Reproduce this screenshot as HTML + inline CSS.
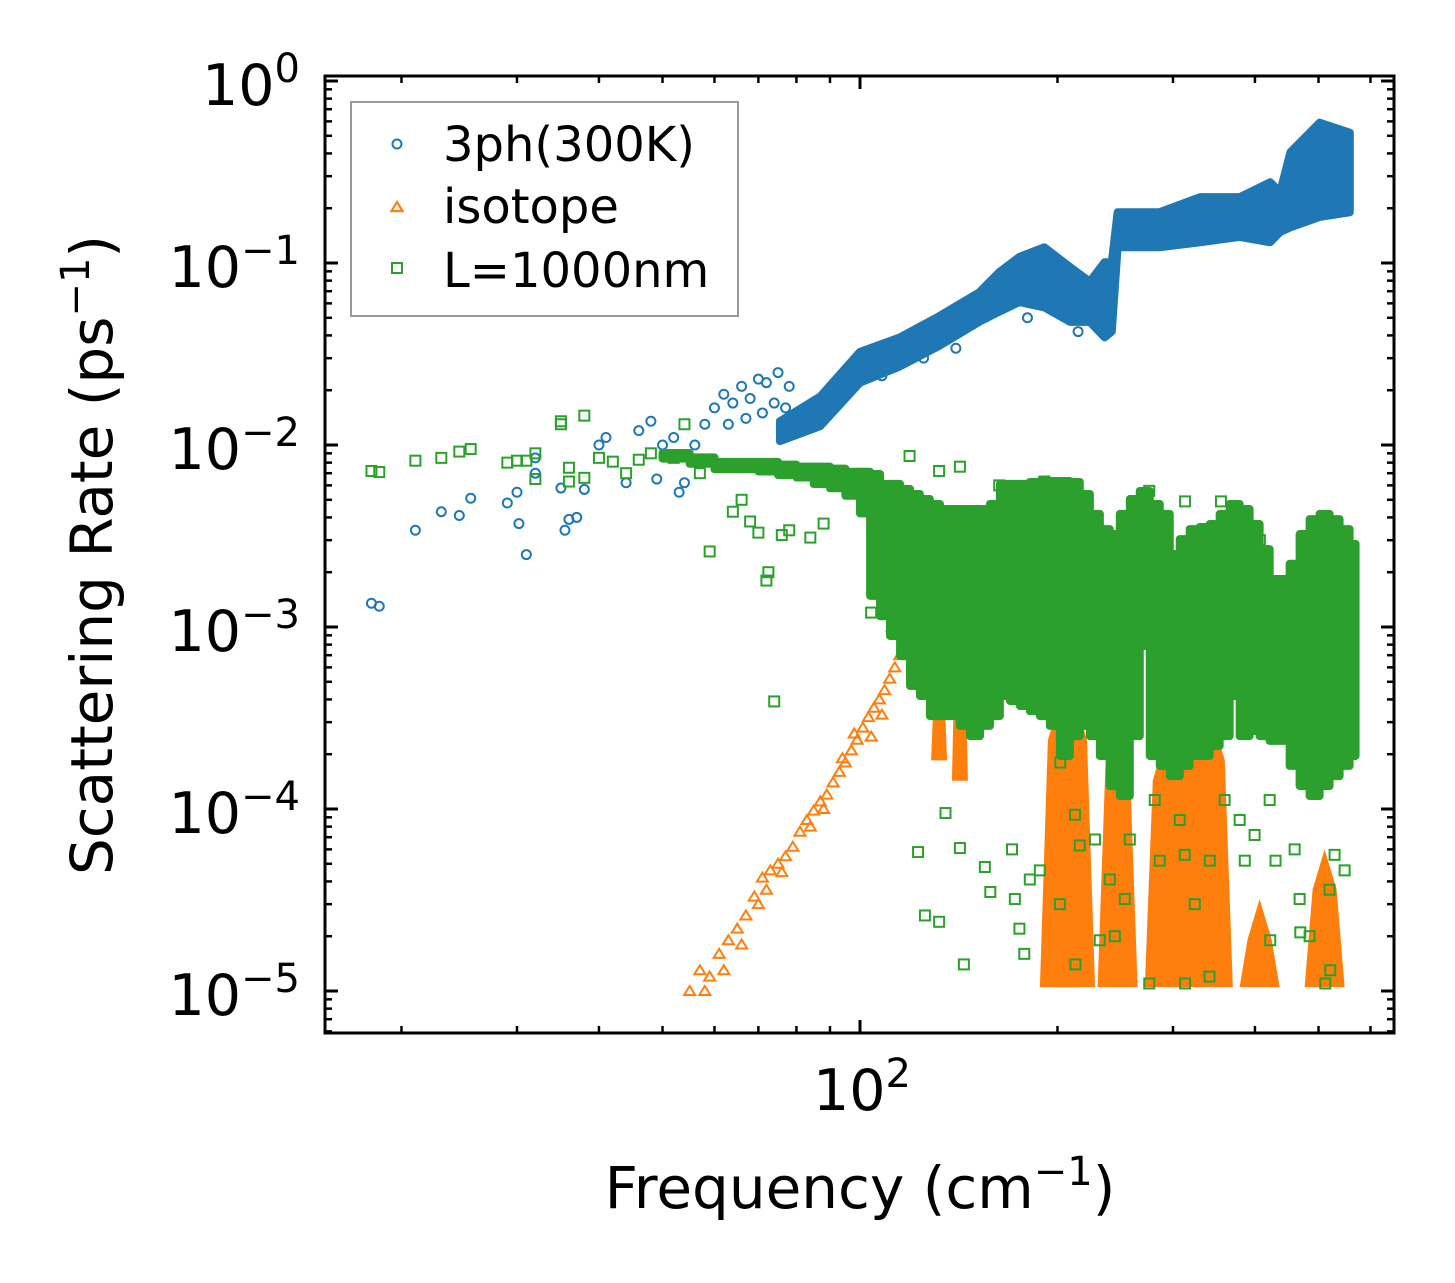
<!DOCTYPE html>
<html><head><meta charset="utf-8"><style>
html,body{margin:0;padding:0;background:#fff;}
svg{display:block;font-family:"DejaVu Sans","Liberation Sans",sans-serif;}
</style></head><body>
<svg id="chart" width="1455" height="1283" viewBox="0 0 1455 1283" xmlns="http://www.w3.org/2000/svg">
<g id="plot"></g>
<g id="axes"></g>
<g id="legend">
  <rect x="351" y="102" width="387" height="214" fill="#fff" stroke="#999" stroke-width="2"/>
  <g>
    <circle cx="397" cy="144" r="4.5" fill="none" stroke="#1f77b4" stroke-width="2"/>
    <text x="443" y="161" font-size="48" fill="#000">3ph(300K)</text>
  </g>
  <g>
    <polygon points="397,202 402.5,211 391.5,211" fill="none" stroke="#ff7f0e" stroke-width="2.2"/>
    <text x="443" y="223" font-size="48" fill="#000">isotope</text>
  </g>
  <g>
    <rect x="392" y="263" width="10" height="10" fill="none" stroke="#2ca02c" stroke-width="2"/>
    <text x="443" y="287" font-size="48" fill="#000">L=1000nm</text>
  </g>
</g>
<text x="860" y="1208" font-size="58" text-anchor="middle">Frequency (cm<tspan dy="-23" font-size="40">−1</tspan><tspan dy="23">)</tspan></text>
<text transform="translate(112,555) rotate(-90)" font-size="58" text-anchor="middle">Scattering Rate (ps<tspan dy="-23" font-size="40">−1</tspan><tspan dy="23">)</tspan></text>
</svg>
<script>
// ---- data ----
const blueBandF  = [75.5, 87, 100, 115, 132, 152, 163, 175, 191, 209, 224, 236, 242, 247, 286, 330, 379, 422, 437, 453, 502, 558];
const blueBandHi = [1.35e-2, 1.85e-2, 3.25e-2, 3.9e-2, 5.1e-2, 6.9e-2, 8.9e-2, 0.108, 0.122, 0.095, 0.079, 0.101, 0.101, 0.19, 0.19, 0.23, 0.23, 0.278, 0.245, 0.406, 0.59, 0.52];
const blueBandLo = [1.05e-2, 1.27e-2, 2.2e-2, 2.7e-2, 3.5e-2, 4.75e-2, 5.4e-2, 6.1e-2, 5.7e-2, 4.75e-2, 4.75e-2, 3.9e-2, 4.2e-2, 0.122, 0.122, 0.13, 0.139, 0.13, 0.148, 0.157, 0.179, 0.19];
const blueF = [18, 18.5, 21, 23, 24.5, 25.5, 29, 30, 30.2, 31, 32, 32, 35, 35.5, 36, 37, 38, 40, 41, 44, 46, 48, 49, 50, 52, 53, 54, 56, 58, 60, 62, 64, 66, 68, 70, 72, 75, 78, 108, 125, 140, 180, 215, 232, 63, 67, 71, 74, 77];
const blueR = [1.35e-3, 1.3e-3, 3.4e-3, 4.3e-3, 4.1e-3, 5.1e-3, 4.8e-3, 5.5e-3, 3.7e-3, 2.5e-3, 7e-3, 8.5e-3, 5.8e-3, 3.4e-3, 3.9e-3, 4e-3, 5.7e-3, 1e-2, 1.1e-2, 6.2e-3, 1.2e-2, 1.35e-2, 6.5e-3, 1e-2, 1.1e-2, 5.5e-3, 6.2e-3, 1e-2, 1.3e-2, 1.6e-2, 1.9e-2, 1.7e-2, 2.1e-2, 1.8e-2, 2.3e-2, 2.2e-2, 2.5e-2, 2.1e-2, 2.4e-2, 3e-2, 3.4e-2, 5e-2, 4.2e-2, 4.3e-2, 1.3e-2, 1.4e-2, 1.5e-2, 1.7e-2, 1.6e-2];

const orangeF = [55, 57, 59, 61, 63, 65, 67, 69, 71, 73, 75, 77, 79, 81, 83, 85, 87, 89, 91, 93, 95, 97, 99, 101, 103, 105, 107, 109, 111, 113, 115, 117, 112, 108, 104, 98, 94, 88, 84, 76, 72, 58, 62, 66, 70];
const orangeR = [1.0e-5, 1.3e-5, 1.2e-5, 1.6e-5, 1.9e-5, 2.2e-5, 2.6e-5, 3.3e-5, 4.2e-5, 4.6e-5, 5.0e-5, 5.5e-5, 6.2e-5, 7.5e-5, 8.7e-5, 9.8e-5, 1.1e-4, 1.2e-4, 1.4e-4, 1.6e-4, 1.8e-4, 2.1e-4, 2.4e-4, 2.8e-4, 3.2e-4, 3.6e-4, 4.0e-4, 4.5e-4, 5.2e-4, 6e-4, 7e-4, 8.4e-4, 1.0e-3, 3.3e-4, 2.5e-4, 2.6e-4, 1.9e-4, 1.0e-4, 8e-5, 4.5e-5, 3.6e-5, 1.0e-5, 1.3e-5, 1.8e-5, 3.0e-5];
const orangeSpanF  = [132, 142, 155, 201.7, 212.7, 247, 291.5, 318, 345, 406.6, 510.8];
const orangeSpanHi = [8.4e-4, 1.39e-3, 2.6e-3, 3.97e-4, 3.97e-4, 3.08e-4, 2.39e-4, 3.08e-4, 3.08e-4, 3.2e-5, 6.0e-5];
const orangeSpanLo = [1.85e-4, 1.43e-4, 3.05e-4, 1.05e-5, 1.05e-5, 1.05e-5, 1.05e-5, 1.05e-5, 1.05e-5, 1.05e-5, 1.05e-5];

const greenSpanF  = [50, 55, 60, 65, 70, 75, 80, 85, 90, 95, 100, 103.6, 107.3, 111.1, 115.1, 119.2, 123.4, 127.8, 132.4, 137.1, 142.0, 147.1, 152.4, 157.8, 163.4, 169.3, 175.3, 181.5, 188.0, 194.7, 201.7, 208.9, 216.3, 224.1, 232.1, 240.3, 248.9, 257.8, 267.0, 276.5, 286.4, 296.6, 307.2, 318.1, 329.5, 341.3, 353.4, 366.0, 379.1, 392.6, 406.6, 421.2, 451.8, 467.9, 484.6, 501.9, 519.8, 538.4, 557.6];
const greenSpanHi = [9.5e-3, 9e-3, 8.5e-3, 8.5e-3, 8.5e-3, 8.2e-3, 8e-3, 8e-3, 7.8e-3, 7.5e-3, 7.5e-3, 7.29e-3, 6.43e-3, 6.43e-3, 6.03e-3, 5.66e-3, 5.31e-3, 4.99e-3, 4.68e-3, 4.68e-3, 4.68e-3, 4.68e-3, 4.68e-3, 4.99e-3, 6.43e-3, 6.43e-3, 6.43e-3, 6.59e-3, 6.67e-3, 6.67e-3, 6.67e-3, 6.59e-3, 5.66e-3, 4.40e-3, 3.63e-3, 3.41e-3, 4.40e-3, 5.31e-3, 5.88e-3, 4.99e-3, 4.40e-3, 2.65e-3, 3.20e-3, 3.63e-3, 3.73e-3, 3.87e-3, 4.40e-3, 4.99e-3, 4.68e-3, 3.87e-3, 2.82e-3, 1.93e-3, 2.34e-3, 3.41e-3, 4.12e-3, 4.40e-3, 4.12e-3, 3.63e-3, 3.01e-3];
const greenSpanLo = [8e-3, 7.5e-3, 7e-3, 7e-3, 6.8e-3, 6.5e-3, 6.3e-3, 5.8e-3, 5.5e-3, 5e-3, 4e-3, 1.41e-3, 1.09e-3, 8.49e-4, 6.59e-4, 4.51e-4, 3.97e-4, 3.08e-4, 3.08e-4, 3.08e-4, 2.72e-4, 2.39e-4, 2.72e-4, 3.08e-4, 3.97e-4, 3.73e-4, 3.50e-4, 3.28e-4, 3.08e-4, 2.72e-4, 1.86e-4, 2.39e-4, 2.72e-4, 2.39e-4, 1.86e-4, 1.27e-4, 1.12e-4, 2.39e-4, 7.48e-4, 1.86e-4, 1.64e-4, 1.44e-4, 1.64e-4, 1.86e-4, 1.86e-4, 2.11e-4, 2.39e-4, 3.97e-4, 2.39e-4, 2.55e-4, 2.39e-4, 2.25e-4, 1.64e-4, 1.27e-4, 1.12e-4, 1.27e-4, 1.44e-4, 1.64e-4, 1.86e-4];
const greenF = [18, 18.5, 21, 23, 24.5, 25.5, 29, 30, 31, 32, 32, 35, 35, 36, 36, 38, 38, 40, 42, 44, 46, 48, 52, 54, 57, 59, 64, 66, 68, 70, 72, 72.5, 74, 76, 78, 84, 88, 104, 115, 122.6, 125.6, 132, 135, 142, 144, 155, 158, 175, 178, 202, 213, 232, 276, 313, 341, 422, 469, 521, 512, 386, 430, 437, 119, 132, 142, 163, 191, 213, 276, 313, 355, 407,
  170.5, 181.5, 172.2, 188, 201.7, 212.7, 216.3, 228.1, 240.3, 244.6, 253.3, 257.8, 281.4, 286.4, 307.2, 312.6, 323.8, 341.3, 359.6, 379.1, 399.5, 421.2, 459.8, 467.9, 484.6, 519.8, 529, 548];
const greenR = [7.2e-3, 7.1e-3, 8.2e-3, 8.5e-3, 9.2e-3, 9.5e-3, 8e-3, 8.2e-3, 8.2e-3, 9e-3, 6.5e-3, 1.3e-2, 1.35e-2, 7.5e-3, 6.3e-3, 1.45e-2, 6.6e-3, 8.5e-3, 8.1e-3, 7e-3, 8.3e-3, 9e-3, 8.5e-3, 1.3e-2, 7e-3, 2.6e-3, 4.3e-3, 5e-3, 3.8e-3, 3.3e-3, 1.8e-3, 2e-3, 3.9e-4, 3.2e-3, 3.4e-3, 3.1e-3, 3.7e-3, 1.2e-3, 1.6e-3, 5.8e-5, 2.6e-5, 2.4e-5, 9.5e-5, 6.1e-5, 1.4e-5, 4.8e-5, 3.5e-5, 2.2e-5, 1.6e-5, 1.8e-4, 1.4e-5, 1.9e-5, 1.1e-5, 1.1e-5, 1.2e-5, 1.9e-5, 2.1e-5, 1.3e-5, 1.1e-5, 5.2e-5, 5.2e-5, 2.7e-4, 8.7e-3, 7.2e-3, 7.6e-3, 6e-3, 6.3e-3, 6e-3, 5.6e-3, 4.9e-3, 4.9e-3, 3e-3,
  6.0e-5, 4.1e-5, 3.2e-5, 4.6e-5, 3.0e-5, 9.3e-5, 6.3e-5, 6.8e-5, 4.1e-5, 2.0e-5, 3.2e-5, 6.8e-5, 1.12e-4, 5.2e-5, 8.7e-5, 5.6e-5, 3.0e-5, 5.2e-5, 1.12e-4, 8.7e-5, 7.2e-5, 1.12e-4, 6.0e-5, 3.2e-5, 2.0e-5, 3.6e-5, 5.6e-5, 4.6e-5];

const yTickExp = [0, -1, -2, -3, -4, -5];
const xTickVals = [100];

// ---- axes ----
const X0 = 325, X1 = 1394, Y0 = 76, Y1 = 1033;
const xs = f => 860 + 656 * Math.log10(f / 100);
const ys = r => 81 - 182 * Math.log10(r);
const NS = 'http://www.w3.org/2000/svg';
const plot = document.getElementById('plot');
const axes = document.getElementById('axes');
function mk(tag, parent, attrs) {
  const e = document.createElementNS(NS, tag);
  for (const k in attrs) e.setAttribute(k, attrs[k]);
  parent.appendChild(e); return e;
}
const clip = mk('clipPath', plot, {id: 'pc'});
mk('rect', clip, {x: X0, y: Y0, width: X1 - X0, height: Y1 - Y0});
const blueG = mk('g', plot, {'clip-path': 'url(#pc)'});


const orangeG = mk('g', plot, {'clip-path': 'url(#pc)'});


const greenG = mk('g', plot, {'clip-path': 'url(#pc)'});



// blue band
let pts = [];
for (let i = 0; i < blueBandF.length; i++) pts.push(xs(blueBandF[i]) + ',' + ys(blueBandHi[i]));
for (let i = blueBandF.length - 1; i >= 0; i--) pts.push(xs(blueBandF[i]) + ',' + ys(blueBandLo[i]));
const bb = mk('polygon', blueG, {points: pts.join(' '), fill: '#1f77b4', stroke: '#1f77b4', 'stroke-width': 8, 'stroke-linejoin': 'round'});


for (let i = 0; i < blueF.length; i++) {
  const c = mk('circle', blueG, {cx: xs(blueF[i]), cy: ys(blueR[i]), r: 4.5, fill: 'none', stroke: '#1f77b4', 'stroke-width': 2});
  
  
}
// orange
for (let i = 0; i < orangeSpanF.length; i++) {
  const x = xs(orangeSpanF[i]), yt = ys(orangeSpanHi[i]), yb = ys(orangeSpanLo[i]);
  const w = i < 3 ? 8 : 20;
  const s = mk('polygon', orangeG, {points: `${x},${yt} ${x+w*0.6},${yt+40} ${x+w},${yb} ${x-w},${yb} ${x-w*0.6},${yt+40}`, fill: '#ff7f0e'});
  
  
}
for (let i = 0; i < orangeF.length; i++) {
  const x = xs(orangeF[i]), y = ys(orangeR[i]);
  const t = mk('polygon', orangeG, {points: `${x},${y-5} ${x+5.5},${y+4} ${x-5.5},${y+4}`, fill: 'none', stroke: '#ff7f0e', 'stroke-width': 2});
  
  
}
// green
for (let i = 0; i < greenSpanF.length; i++) {
  const x = xs(greenSpanF[i]), yt = ys(greenSpanHi[i]), yb = ys(greenSpanLo[i]);
  const gap = i < greenSpanF.length - 1 ? xs(greenSpanF[i + 1]) - x : 6;
  const w = gap < 29 ? gap + 8 : 12;
  const s = mk('rect', greenG, {x: x - 4, y: yt, width: w, height: yb - yt, fill: '#2ca02c', rx: 4});
  
  
}
for (let i = 0; i < greenF.length; i++) {
  const r = mk('rect', greenG, {x: xs(greenF[i]) - 5, y: ys(greenR[i]) - 5, width: 10, height: 10, fill: 'none', stroke: '#2ca02c', 'stroke-width': 2});
  
  
}

// spines
const sp = mk('rect', axes, {x: X0, y: Y0, width: X1 - X0, height: Y1 - Y0, fill: 'none', stroke: '#000', 'stroke-width': 3});


// y ticks
for (const e of yTickExp) {
  const y = ys(Math.pow(10, e));
  mk('line', axes, {x1: X0, x2: X0 + 13, y1: y, y2: y, stroke: '#000', 'stroke-width': 3});
  mk('line', axes, {x1: X1, x2: X1 - 13, y1: y, y2: y, stroke: '#000', 'stroke-width': 3});
  const t = mk('text', axes, {x: 300, y: y + 24, 'font-size': 57, 'text-anchor': 'end'});
  
  
  t.innerHTML = '10<tspan dy="-23" font-size="40">' + (e === 0 ? '0' : '−' + (-e)) + '</tspan>';
}
for (let e = -6; e <= 0; e++) for (let m = 2; m <= 9; m++) {
  const y = ys(m * Math.pow(10, e));
  if (y < Y0 + 1 || y > Y1 - 1) continue;
  mk('line', axes, {x1: X0, x2: X0 + 7, y1: y, y2: y, stroke: '#000', 'stroke-width': 2.5});
  mk('line', axes, {x1: X1, x2: X1 - 7, y1: y, y2: y, stroke: '#000', 'stroke-width': 2.5});
}
// x ticks
for (const v of xTickVals) {
  const x = xs(v);
  mk('line', axes, {x1: x, x2: x, y1: Y1, y2: Y1 - 13, stroke: '#000', 'stroke-width': 3});
  mk('line', axes, {x1: x, x2: x, y1: Y0, y2: Y0 + 13, stroke: '#000', 'stroke-width': 3});
  const t = mk('text', axes, {x: x + 2, y: 1110, 'font-size': 57, 'text-anchor': 'middle'});
  
  
  t.innerHTML = '10<tspan dy="-23" font-size="40">' + Math.log10(v) + '</tspan>';
}
for (let e = 1; e <= 2; e++) for (let m = 2; m <= 9; m++) {
  const x = xs(m * Math.pow(10, e));
  if (x < X0 + 1 || x > X1 - 1) continue;
  mk('line', axes, {x1: x, x2: x, y1: Y1, y2: Y1 - 7, stroke: '#000', 'stroke-width': 2.5});
  mk('line', axes, {x1: x, x2: x, y1: Y0, y2: Y0 + 7, stroke: '#000', 'stroke-width': 2.5});
}
</script>
</body></html>
